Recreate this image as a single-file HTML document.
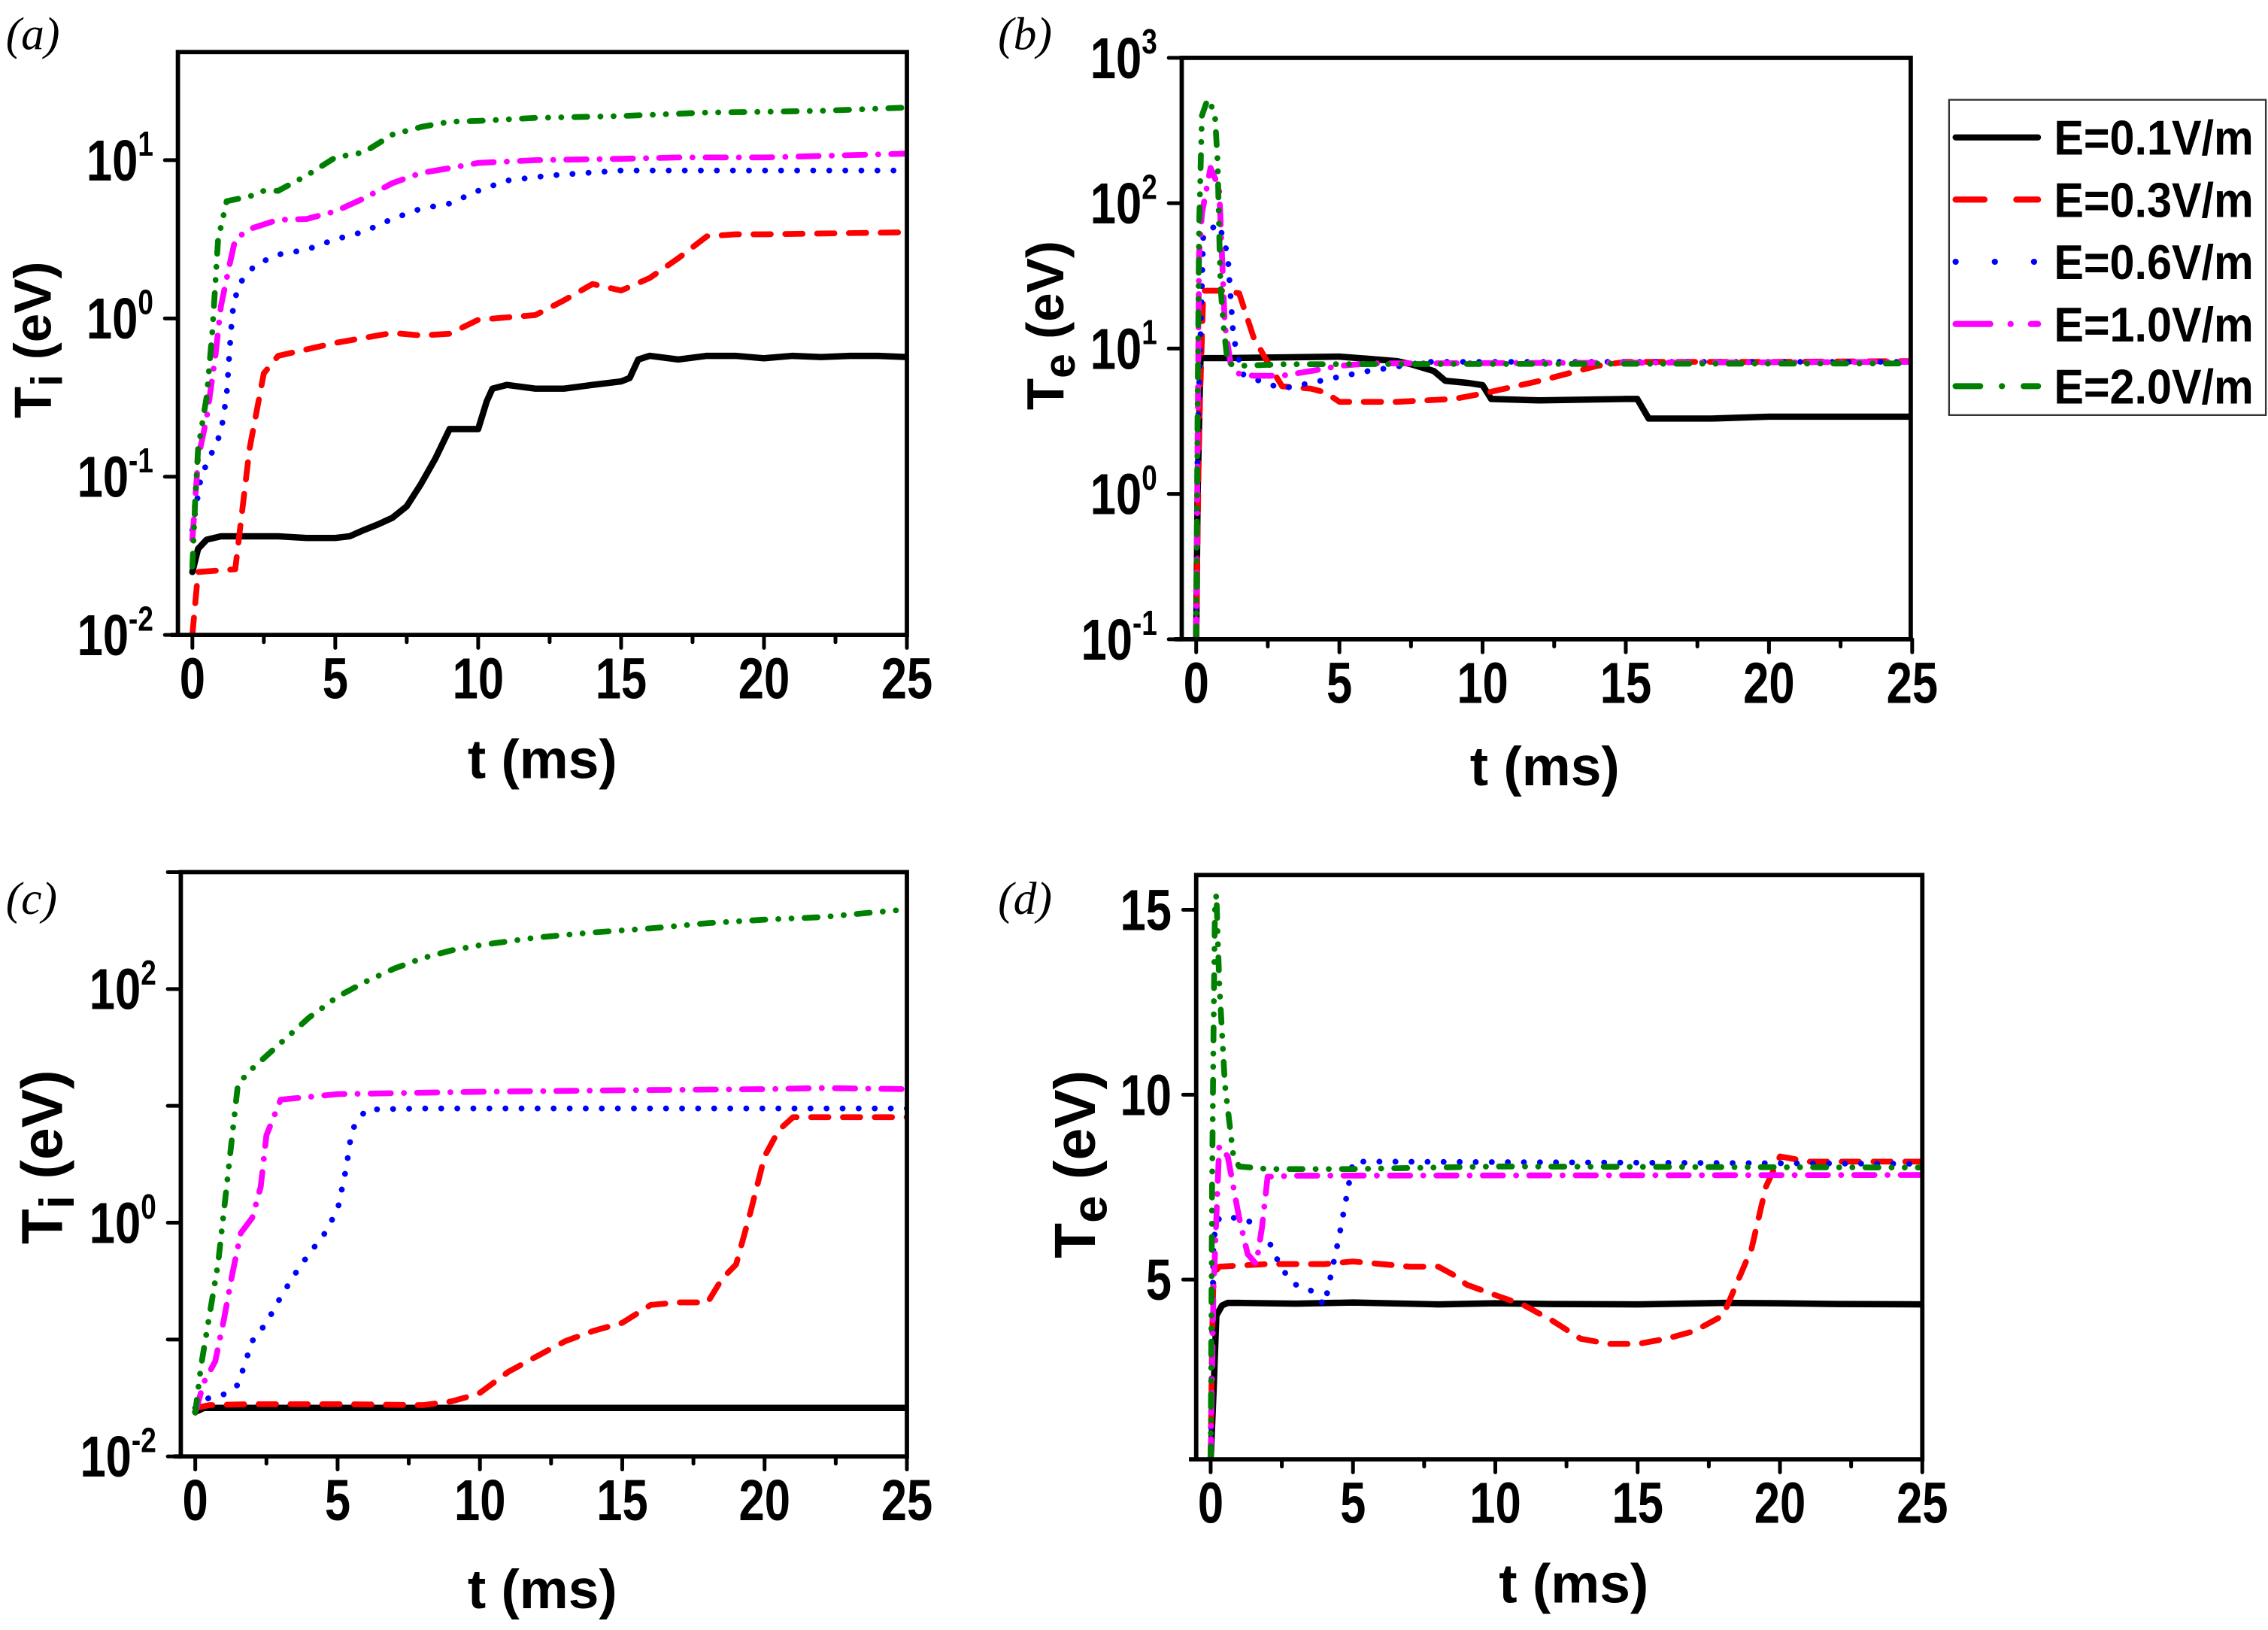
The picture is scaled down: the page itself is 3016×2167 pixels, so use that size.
<!DOCTYPE html>
<html><head><meta charset="utf-8"><title>Ti / Te vs t</title>
<style>html,body{margin:0;padding:0;background:#fff;}svg{display:block;}</style></head>
<body>
<svg id="fig" xmlns="http://www.w3.org/2000/svg" width="3016" height="2167" viewBox="0 0 1568 1127" preserveAspectRatio="none"></svg>
<script>
// ---------- data ----------
const seriesNames = ["E=0.1V/m","E=0.3V/m","E=0.6V/m","E=1.0V/m","E=2.0V/m"];
const xTicks = [0,5,10,15,20,25];

// panel a (Ti, log)
const aBlackT = [0,0.2,0.5,1,2,3,4,5,5.5,6,6.5,7,7.5,8,8.5,9,9.5,10,10.3,10.5,11,12,13,14,15,15.3,15.6,16,17,18,19,20,21,22,23,24,25];
const aBlackV = [0.025,0.035,0.04,0.042,0.042,0.042,0.041,0.041,0.042,0.046,0.05,0.055,0.065,0.09,0.13,0.2,0.2,0.2,0.3,0.36,0.38,0.36,0.36,0.38,0.4,0.42,0.55,0.58,0.55,0.58,0.58,0.56,0.58,0.57,0.58,0.58,0.57];
const aRedT = [0,0.2,1.5,2,2.5,3,5,7,8,9,10,12,13,14,15,16,17,18,19,20,25];
const aRedV = [0.01,0.025,0.026,0.15,0.45,0.58,0.7,0.81,0.78,0.8,0.98,1.05,1.3,1.65,1.5,1.8,2.4,3.3,3.4,3.4,3.5];
const aBlueT = [0,0.3,1,1.2,1.3,1.4,1.6,2.2,3,4,5,6,7,8,9,10,11,12.5,15,20,25];
const aBlueV = [0.046,0.1,0.19,0.33,0.62,1.08,1.62,2.18,2.53,2.72,3.16,3.53,4.26,4.94,5.32,6.4,7.43,8.0,8.6,8.6,8.6];
const aMagT = [0,0.2,0.5,0.8,1,1.3,1.5,2,3,4,5,6,7,8,9,10,11,12,15,17,20,25];
const aMagV = [0.04,0.13,0.235,0.57,1.2,2.18,3.16,3.67,4.2,4.25,4.75,5.73,7.16,8.3,8.9,9.6,9.8,10,10.2,10.4,10.4,11];
const aGreenT = [0,0.1,0.2,0.5,0.7,0.8,0.9,1.2,2,2.5,3,4,5,5.5,6,7,8,9,10,12,15,18,20,22,25];
const aGreenV = [0.027,0.072,0.15,0.32,0.83,1.62,3.16,5.5,5.9,6.4,6.4,8.0,10.4,10.8,11.2,14.5,16.2,17.5,17.7,18.5,19,20,20.2,20.5,21.5];

// panel b (Te, log)
const bBlackT = [0,0.05,0.15,1,3,5,6,7,7.5,8.3,8.7,9.5,10,10.3,12,15,15.4,15.8,18,20,25];
const bBlackV = [0.1,1,8.6,8.6,8.7,8.8,8.5,8.2,7.8,7.0,6.0,5.8,5.6,4.5,4.4,4.5,4.5,3.3,3.3,3.4,3.4];
const bRedT = [0,0.1,0.25,1,1.5,2,2.5,3,4,4.5,5,7,9,10,12,14,15,20,25];
const bRedV = [0.1,2.7,25,25,24,12,8,5.5,5.3,5.0,4.3,4.3,4.5,4.9,6,7.6,8.1,8.1,8.2];
const bBlueT = [0,0.05,0.15,0.25,0.8,1.1,1.2,1.3,1.6,2,3,4,5,6,7,8,10,25];
const bBlueV = [0.1,2.3,12.3,62,72,44,23,12,6.7,6.2,5.3,5.8,6.4,7,7.5,8.1,8.1,8.1];
const bMagT = [0,0.05,0.1,0.2,0.5,0.8,0.9,1,1.2,1.5,2,3,4,5,6,25];
const bMagV = [0.1,2.3,44,85,175,128,44,14.5,7.9,6.7,6.5,6.5,7,7.6,7.9,8.1];
const bGreenT = [0,0.05,0.1,0.2,0.4,0.65,0.75,0.8,0.85,0.95,1.1,1.5,3,25];
const bGreenV = [0.1,4,66,400,520,420,190,66,27,14.5,7.9,7.6,7.8,7.9];

// panel c (Ti, log)
const cBlackT = [0,0.3,1,5,10,15,20,25];
const cBlackV = [0.024,0.026,0.026,0.026,0.026,0.026,0.026,0.026];
const cRedT = [0,0.5,2,5,8,9,9.5,10,11,12,13,14,15,16,17,18,18.5,19,19.5,20,20.5,21,25];
const cRedV = [0.026,0.0275,0.028,0.028,0.0275,0.0296,0.032,0.035,0.053,0.072,0.097,0.119,0.139,0.198,0.208,0.208,0.33,0.44,1.22,3.7,6.2,8.0,8.0];
const cBlueT = [0,0.5,1,1.5,2,2.5,3,3.5,4,4.5,5,5.3,5.5,6,8,25];
const cBlueV = [0.026,0.032,0.034,0.041,0.097,0.139,0.231,0.363,0.544,0.776,1.29,2.9,6.2,9.3,9.5,9.5];
const cMagT = [0,0.3,0.7,1,1.3,1.6,2,2.3,2.5,3,5,10,15,20,22,25];
const cMagV = [0.0237,0.043,0.065,0.146,0.363,0.817,1.1,2.03,5.6,11.3,12.6,13.2,13.6,13.9,14.2,13.9];
const cGreenT = [0,0.2,0.5,0.8,1,1.3,1.5,2,3,4,5,6,7,8,9,10,12,14,16,18,20,22,25];
const cGreenV = [0.0237,0.059,0.162,0.445,1.22,5.6,15.4,20.8,34.5,57,86,116,150,184,214,237,276,305,330,366,392,412,480];

// panel d (Te, linear)
const dBlackT = [0,0.1,0.2,0.4,0.6,1,3,5,8,10,12,15,18,20,22,25];
const dBlackV = [0.14,1.94,4.03,4.3,4.37,4.37,4.35,4.38,4.33,4.36,4.34,4.33,4.37,4.36,4.34,4.33];
const dRedT = [0,0.05,0.1,0.3,2,4,5,6,7,8,8.5,9,10,11,12,13,14,15,16,17,18,19,19.5,20,21,25];
const dRedV = [0.14,3.33,5.14,5.35,5.42,5.42,5.49,5.42,5.35,5.35,5.14,4.86,4.58,4.31,3.89,3.4,3.26,3.26,3.4,3.61,4.03,5.83,7.5,8.33,8.19,8.19];
const dBlueT = [0,0.1,0.3,1,1.5,2,2.5,3,3.5,4,4.5,4.7,5,6,25];
const dBlueV = [0.14,6.11,6.67,6.67,6.53,6.11,5.28,4.86,4.72,4.31,6.11,6.94,8.19,8.19,8.13];
const dMagT = [0,0.1,0.3,0.6,1,1.3,1.6,1.8,2,3,25];
const dMagV = [0.14,4.72,8.61,8.33,6.67,5.69,5.42,6.39,7.78,7.81,7.83];
const dGreenT = [0,0.05,0.1,0.15,0.2,0.3,0.5,0.8,1,2,5,10,25];
const dGreenV = [0.14,7.5,11.67,15,15.42,13.06,10.28,8.33,8.06,7.99,7.99,8.06,8.03];

// ---------- drawing ----------
const NS = "http://www.w3.org/2000/svg";
const svg = document.getElementById("fig");
function mk(tag, attrs, parent){
  const e = document.createElementNS(NS, tag);
  for (const k in attrs) e.setAttribute(k, attrs[k]);
  (parent||svg).appendChild(e);
  return e;
}
const STY = [
  {c:"#000000", d:"none", w:4.4},
  {c:"#ff0000", d:"12 10", w:4},
  {c:"#0000ff", d:"0.1 11", w:4},
  {c:"#ff00ff", d:"14 9 0.1 9", w:4},
  {c:"#008000", d:"9 9 0.1 9 0.1 9", w:4}
];
const LEG_D = ["none","20 22","0.1 27","24 14 0.1 14","17 15 0.1 15"];

function panel(cfg){
  const g = mk("g", {});
  
  
  const X = t => cfg.x0 + (t - 0) / 25 * (cfg.x25 - cfg.x0);
  const Y = cfg.log
    ? v => cfg.yb - (Math.log10(v) - cfg.lmin) / (cfg.lmax - cfg.lmin) * (cfg.yb - cfg.yt)
    : v => cfg.yb - (v - cfg.lmin) / (cfg.lmax - cfg.lmin) * (cfg.yb - cfg.yt);
  const clip = "clip-" + cfg.name;
  const cp = mk("clipPath", {id: clip}, g);
  mk("rect", {x: cfg.L, y: cfg.yt, width: cfg.R - cfg.L, height: cfg.yb - cfg.yt}, cp);
  const sg = mk("g", {"clip-path": "url(#" + clip + ")"}, g);
  cfg.series.forEach((s, i) => {
    const d = s[0].map((t, j) => (j ? "L" : "M") + X(t).toFixed(2) + " " + Y(s[1][j]).toFixed(2)).join(" ");
    const p = mk("path", {d: d, fill: "none", stroke: STY[i].c, "stroke-width": STY[i].w,
      "stroke-linecap": "round", "stroke-linejoin": "round"}, sg);
    if (STY[i].d !== "none") p.setAttribute("stroke-dasharray", STY[i].d);
    
    
  });
  const fr = mk("rect", {x: cfg.L, y: cfg.yt, width: cfg.R - cfg.L, height: cfg.yb - cfg.yt, fill: "none", stroke: "#000", "stroke-width": 3}, g);
  
  
  const xa = mk("g", {}, g);
  
  
  for (let t = 0; t <= 25; t += 2.5) {
    const major = (t % 5 === 0);
    mk("line", {x1: X(t), x2: X(t), y1: cfg.yb, y2: cfg.yb + (major ? 9 : 5), stroke: "#000", "stroke-width": 2.6, "stroke-linecap": "round"}, xa);
  }
  mk("line", {x1: cfg.L - 5, x2: cfg.L, y1: cfg.yb, y2: cfg.yb, stroke: "#000", "stroke-width": 3}, xa);
  xTicks.forEach(t => {
    const gg = mk("g", {transform: "translate(" + X(t) + "," + (cfg.yb + 44) + ") scale(0.8,1)"}, xa);
    const tx = mk("text", {x: 0, y: 0, "text-anchor": "middle", "font-family": "Liberation Sans, Arial, sans-serif", "font-weight": "bold", "font-size": 40}, gg);
    tx.textContent = String(t);
    
    
  });
  const ya = mk("g", {}, g);
  
  
  cfg.yticks.forEach(tk => {
    const yy = Y(tk.v);
    mk("line", {x1: cfg.L - 9, x2: cfg.L, y1: yy, y2: yy, stroke: "#000", "stroke-width": 2.6, "stroke-linecap": "round"}, ya);
    if (tk.label === null) return;
    const gg = mk("g", {transform: "translate(" + (cfg.L - 17) + "," + (yy + 14) + ") scale(0.8,1)"}, ya);
    const tx = mk("text", {x: 0, y: 0, "text-anchor": "end", "font-family": "Liberation Sans, Arial, sans-serif", "font-weight": "bold", "font-size": 40}, gg);
    
    
    if (tk.exp !== undefined) {
      const a = mk("tspan", {}, tx); a.textContent = "10";
      const b = mk("tspan", {dy: -17, "font-size": 24}, tx); b.textContent = tk.exp;
    } else tx.textContent = tk.label;
  });
  const xt = mk("text", {x: cfg.xtx, y: cfg.xty, "text-anchor": "middle", "font-family": "Liberation Sans, Arial, sans-serif", "font-weight": "bold", "font-size": 38}, g);
  xt.textContent = "t (ms)";
  
  
  const yt = mk("text", {x: 0, y: 0, transform: "translate(" + cfg.ytx + "," + cfg.yty + ") rotate(-90)", "text-anchor": "middle", "font-family": "Liberation Sans, Arial, sans-serif", "font-weight": "bold", "font-size": cfg.ytfs}, g);
  const t1 = mk("tspan", {}, yt); t1.textContent = "T";
  const t2 = mk("tspan", {dy: 8, "font-size": cfg.ytfs * 0.85}, yt); t2.textContent = cfg.sub;
  const t3 = mk("tspan", {dy: -8}, yt); t3.textContent = " (eV)";
  
  
  const pl = mk("text", {x: cfg.plx, y: cfg.ply, "font-family": "Liberation Serif, serif", "font-style": "italic", "font-size": 32}, g);
  pl.textContent = cfg.tag;
  
  
}

panel({name: "panel-a", tag: "(a)", plx: 4, ply: 34, L: 123, R: 627, x0: 133, x25: 627, yt: 36, yb: 439,
  log: true, lmin: -2, lmax: 1.683,
  yticks: [{v: 0.01, exp: "-2"}, {v: 0.1, exp: "-1"}, {v: 1, exp: "0"}, {v: 10, exp: "1"}],
  xtx: 375, xty: 538, ytx: 35, yty: 235, ytfs: 36, sub: "i",
  series: [[aBlackT, aBlackV], [aRedT, aRedV], [aBlueT, aBlueV], [aMagT, aMagV], [aGreenT, aGreenV]]});

panel({name: "panel-b", tag: "(b)", plx: 690, ply: 34, L: 817, R: 1321, x0: 827, x25: 1322, yt: 40, yb: 442,
  log: true, lmin: -1, lmax: 3,
  yticks: [{v: 0.1, exp: "-1"}, {v: 1, exp: "0"}, {v: 10, exp: "1"}, {v: 100, exp: "2"}, {v: 1000, exp: "3"}],
  xtx: 1068, xty: 543, ytx: 735, yty: 225, ytfs: 36, sub: "e",
  series: [[bBlackT, bBlackV], [bRedT, bRedV], [bBlueT, bBlueV], [bMagT, bMagV], [bGreenT, bGreenV]]});

panel({name: "panel-c", tag: "(c)", plx: 4, ply: 632, L: 125, R: 627, x0: 135, x25: 627, yt: 603, yb: 1007,
  log: true, lmin: -2, lmax: 3,
  yticks: [{v: 0.01, exp: "-2"}, {v: 0.1, label: null}, {v: 1, exp: "0"}, {v: 10, label: null}, {v: 100, exp: "2"}, {v: 1000, label: null}],
  xtx: 375, xty: 1112, ytx: 43, yty: 800, ytfs: 40, sub: "i",
  series: [[cBlackT, cBlackV], [cRedT, cRedV], [cBlueT, cBlueV], [cMagT, cMagV], [cGreenT, cGreenV]]});

panel({name: "panel-d", tag: "(d)", plx: 690, ply: 632, L: 827, R: 1329, x0: 837, x25: 1329, yt: 605, yb: 1009,
  log: false, lmin: 0.14, lmax: 15.94,
  yticks: [{v: 5, label: "5"}, {v: 10, label: "10"}, {v: 15, label: "15"}],
  xtx: 1088, xty: 1108, ytx: 757, yty: 805, ytfs: 40, sub: "e",
  series: [[dBlackT, dBlackV], [dRedT, dRedV], [dBlueT, dBlueV], [dMagT, dMagV], [dGreenT, dGreenV]]});

const lg = mk("g", {});


mk("rect", {x: 1347.5, y: 69, width: 219, height: 218, fill: "#fff", stroke: "#333", "stroke-width": 1.2}, lg);
seriesNames.forEach((n, i) => {
  const y = 95 + i * 43;
  const e = mk("g", {}, lg);
  
  
  const l = mk("line", {x1: 1352, x2: 1409, y1: y, y2: y, stroke: STY[i].c, "stroke-width": 4.2, "stroke-linecap": "round"}, e);
  if (LEG_D[i] !== "none") l.setAttribute("stroke-dasharray", LEG_D[i]);
  const t = mk("text", {x: 1420, y: y + 12, "font-family": "Liberation Sans, Arial, sans-serif", "font-weight": "bold", "font-size": 34, textLength: 138, lengthAdjust: "spacingAndGlyphs"}, e);
  t.textContent = n;
});
</script>
</body></html>
